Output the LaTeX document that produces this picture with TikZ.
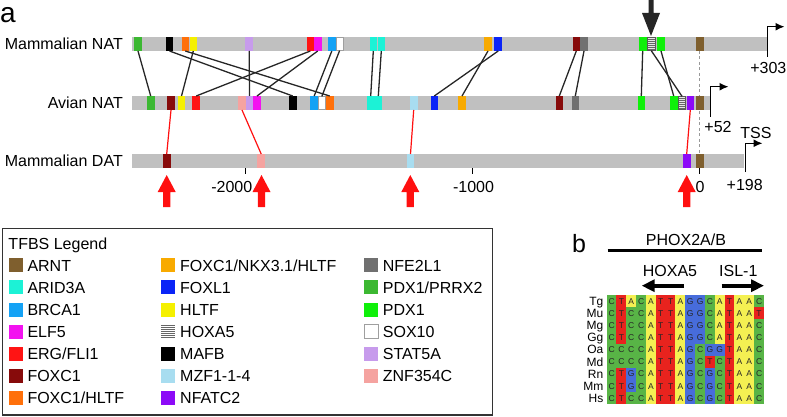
\documentclass[tikz,border=0pt]{standalone}
\usepackage{fontspec}
\setmainfont{Liberation Sans}
\usetikzlibrary{arrows.meta}
\newcommand\fs[1]{\fontsize{#1}{#1}\selectfont}
\definecolor{bargray}{HTML}{C0C0C0}
\definecolor{cARNT}{HTML}{7F5F2E}
\definecolor{cARID}{HTML}{1CF2D6}
\definecolor{cBRCA}{HTML}{14A2F5}
\definecolor{cELF}{HTML}{F312F0}
\definecolor{cERG}{HTML}{FF1414}
\definecolor{cFOXC}{HTML}{870B0B}
\definecolor{cFHLTF}{HTML}{FF700A}
\definecolor{cFNKX}{HTML}{F8AA00}
\definecolor{cFOXL}{HTML}{0A24F7}
\definecolor{cHLTF}{HTML}{F5F000}
\definecolor{cMAFB}{HTML}{000000}
\definecolor{cMZF}{HTML}{A8DDF0}
\definecolor{cNFAT}{HTML}{8C0AF7}
\definecolor{cNFE}{HTML}{707070}
\definecolor{cPPR}{HTML}{3CB832}
\definecolor{cPDX}{HTML}{0FF00A}
\definecolor{cSTAT}{HTML}{C79BEC}
\definecolor{cZNF}{HTML}{F5A3A0}
\definecolor{arrred}{HTML}{FF1010}
\definecolor{nA}{HTML}{F4F052}
\definecolor{nC}{HTML}{58B446}
\definecolor{nG}{HTML}{476CDB}
\definecolor{nT}{HTML}{E8231E}
\begin{document}
\begin{tikzpicture}[x=1pt,y=-1pt,
  tbox/.style={rectangle,minimum width=7.6pt,minimum height=14pt,inner sep=0pt,outer sep=0pt},
  sox/.style={tbox,fill=white,draw=gray!75,line width=0.8pt,minimum width=6.8pt,minimum height=13.2pt},
  hox/.style={tbox,fill=gray!20,draw=black!65,line width=0.7pt,minimum width=7.2pt,minimum height=13.4pt,
    path picture={\foreach \k in {1,...,6}{\draw[black!60,line width=0.6pt]
      ([yshift=-\k*1.95pt]path picture bounding box.north west) -- ([yshift=-\k*1.95pt]path picture bounding box.north east);}}},
  conn/.style={draw=black!85,line width=1.3pt},
  rconn/.style={draw=arrred,line width=1.2pt},
  lab/.style={font=\fs{16},inner sep=0pt},
  tick/.style={draw=black,line width=1pt},
  bent/.style={draw=black,line width=1.3pt,-{Latex[length=9pt,width=8pt]}},
  sw/.style={rectangle,minimum width=14pt,minimum height=14pt,inner sep=0pt},
  lgt/.style={font=\fs{16},inner sep=0pt,anchor=base west},
  cell/.style={rectangle,minimum width=9.95pt,minimum height=12.25pt,inner sep=0pt,font=\fs{8.5},text=black!85},
  uparr/.pic={\fill[arrred] (-3.6,32) -- (-3.6,17) -- (-9,17) -- (0,0) -- (9,17) -- (3.6,17) -- (3.6,32) -- cycle;}
]
\useasboundingbox (0,0) rectangle (787,417);
% panel label
\node[font=\fs{28},inner sep=0pt,anchor=base west] (pa) at (0,22.7) {a};
% dashed guide at position 0
\coordinate (dtop) at (699.7,51);
\coordinate (dbot) at (699.7,154);
\draw[gray!80,line width=0.6pt,dash pattern=on 3pt off 2.5pt] (dtop) -- (dbot);
% bars
\fill[bargray] (132,37) rectangle (767,51);
\fill[bargray] (132,96) rectangle (710,110);
\fill[bargray] (132,154) rectangle (743.5,168);
% row labels
\node[lab,anchor=base east] (lmn) at (123,49.5) {Mammalian NAT};
\node[lab,anchor=base east] (lan) at (123,108.5) {Avian NAT};
\node[lab,anchor=base east] (lmd) at (123,166.5) {Mammalian DAT};
% Mammalian NAT boxes
\node[tbox,fill=cPPR]  (m1) at (138,44) {};
\node[tbox,fill=cMAFB] (m2) at (169.5,44) {};
\node[tbox,fill=cFHLTF](m3) at (185.3,44) {};
\node[tbox,fill=cHLTF] (m4) at (193.3,44) {};
\node[tbox,fill=cSTAT] (m5) at (249.2,44) {};
\node[tbox,fill=cERG]  (m6) at (310.3,44) {};
\node[tbox,fill=cELF]  (m7) at (317.7,44) {};
\node[tbox,fill=cBRCA] (m8) at (331.8,44) {};
\node[sox]             (m9) at (339.6,44) {};
\node[tbox,fill=cARID] (m10) at (373.3,44) {};
\node[tbox,fill=cARID] (m11) at (381.3,44) {};
\node[tbox,fill=cFNKX] (m12) at (488,44) {};
\node[tbox,fill=cFOXL] (m13) at (498.2,44) {};
\node[tbox,fill=cFOXC] (m14) at (576.3,44) {};
\node[tbox,fill=cNFE]  (m15) at (584,44) {};
\node[tbox,fill=cPDX]  (m16) at (642.7,44) {};
\node[hox]             (m17) at (651.3,44) {};
\node[tbox,fill=cPDX]  (m18) at (661,44) {};
\node[tbox,fill=cARNT] (m19) at (699.7,44) {};
% Avian NAT boxes
\node[tbox,fill=cPPR]  (a1) at (150.7,103) {};
\node[tbox,fill=cFOXC] (a2) at (171,103) {};
\node[tbox,fill=cHLTF] (a3) at (181.5,103) {};
\node[tbox,fill=cERG]  (a4) at (196.2,103) {};
\node[tbox,fill=cZNF]  (a5) at (242,103) {};
\node[tbox,fill=cSTAT] (a6) at (249.5,103) {};
\node[tbox,fill=cELF]  (a7) at (257,103) {};
\node[tbox,fill=cMAFB] (a8) at (292.7,103) {};
\node[tbox,fill=cBRCA] (a9) at (314.2,103) {};
\node[sox]             (a10) at (321.8,103) {};
\node[tbox,fill=cFHLTF](a11) at (329.7,103) {};
\node[tbox,fill=cARID] (a12) at (370.7,103) {};
\node[tbox,fill=cARID] (a13) at (378.3,103) {};
\node[tbox,fill=cMZF]  (a14) at (413.7,103) {};
\node[tbox,fill=cFOXL] (a15) at (434.3,103) {};
\node[tbox,fill=cFNKX] (a16) at (462,103) {};
\node[tbox,fill=cFOXC] (a17) at (559.3,103) {};
\node[tbox,fill=cNFE]  (a18) at (575.3,103) {};
\node[tbox,fill=cPDX]  (a19) at (641.3,103) {};
\node[tbox,fill=cPDX]  (a20) at (673.7,103) {};
\node[hox]             (a21) at (682,103) {};
\node[tbox,fill=cNFAT] (a22) at (690.3,103) {};
\node[tbox,fill=cARNT] (a23) at (699.7,103) {};
% Mammalian DAT boxes
\node[tbox,fill=cFOXC] (d1) at (166.7,161) {};
\node[tbox,fill=cZNF]  (d2) at (261.2,161) {};
\node[tbox,fill=cMZF]  (d3) at (410.5,161) {};
\node[tbox,fill=cNFAT] (d4) at (686.7,161) {};
\node[tbox,fill=cARNT] (d5) at (699.7,161) {};
% conserved connectors NAT-NAT
\draw[conn] (m1.south) -- (a1.north);
\draw[conn] (m2.south) -- (a8.north);
\draw[conn] (m3.south) -- (a11.north);
\draw[conn] (m4.south) -- (a3.north);
\draw[conn] (m5.south) -- (a6.north);
\draw[conn] (m6.south) -- (a4.north);
\draw[conn] (m7.south) -- (a7.north);
\draw[conn] (m8.south) -- (a9.north);
\draw[conn] (m9.south) -- (a10.north);
\draw[conn] (m10.south) -- (a12.north);
\draw[conn] (m11.south) -- (a13.north);
\draw[conn] (m12.south) -- (a16.north);
\draw[conn] (m13.south) -- (a15.north);
\draw[conn] (m14.south) -- (a17.north);
\draw[conn] (m15.south) -- (a18.north);
\draw[conn] (m16.south) -- (a19.north);
\draw[conn] (m17.south) -- (a21.north);
\draw[conn] (m18.south) -- (a20.north);
% avian NAT - DAT
\draw[rconn] (a2.south) -- (d1.north);
\draw[rconn] (a5.south) -- (d2.north);
\draw[rconn] (a14.south) -- (d3.north);
\draw[rconn] (a22.south) -- (d4.north);
% ticks
\draw[tick] (245.7,168) -- (245.7,174);
\draw[tick] (472.2,168) -- (472.2,174);
\draw[tick] (699.7,168) -- (699.7,174);
\node[lab,anchor=base] (t2000) at (231.8,192.3) {-2000};
\node[lab,anchor=base] (t1000) at (473.5,192.3) {-1000};
\node[lab,anchor=base] (t0) at (700,192.3) {0};
% TSS bent arrows
\draw[bent] (767.3,57) -- (767.3,26.7) -- (784.5,26.7);
\node[lab,anchor=base] (p303) at (768.3,73.3) {+303};
\draw[bent] (710.7,116.7) -- (710.7,86.7) -- (728.5,86.7);
\node[lab,anchor=base] (p52) at (718,132.7) {+52};
\draw[bent] (745.5,172) -- (745.5,143.3) -- (762.5,143.3);
\node[lab,anchor=base] (tss) at (756,138.3) {TSS};
\node[lab,anchor=base] (p198) at (744.7,190) {+198};
% red arrows
\pic at (166.7,175) {uparr};
\pic at (261.5,175) {uparr};
\pic at (410.3,175) {uparr};
\pic at (686.7,175) {uparr};
% black arrow
\fill[black!85] (648.5,0) -- (648.5,13) -- (642,13) -- (651,36) -- (660,13) -- (653.5,13) -- (653.5,0) -- cycle;
% legend
\draw[black!80,line width=1.4pt] (2.7,228.3) rectangle (492.7,415);
\node[lgt] (lgtitle) at (8.3,249) {TFBS Legend};
\foreach \c/\t [count=\i] in {cARNT/ARNT,cARID/ARID3A,cBRCA/BRCA1,cELF/ELF5,cERG/ERG\slash FLI1,cFOXC/FOXC1,cFHLTF/FOXC1\slash HLTF}{
  \node[sw,fill=\c] (sa\i) at (15.5,{265.3+(\i-1)*22.1}) {};
  \node[lgt] (la\i) at (27.3,{265.3+(\i-1)*22.1+5.8}) {\t};
}
\foreach \c/\t [count=\i] in {cFNKX/FOXC1\slash NKX3.1\slash HLTF,cFOXL/FOXL1,cHLTF/HLTF,white/HOXA5,cMAFB/MAFB,cMZF/MZF1-1-4,cNFAT/NFATC2}{
  \node[sw,fill=\c] (sb\i) at (168,{265.3+(\i-1)*22.1}) {};
  \node[lgt] (lb\i) at (180,{265.3+(\i-1)*22.1+5.8}) {\t};
}
\foreach \k in {1,...,7}{\draw[black!60,line width=0.8pt] ([yshift=-\k*1.85pt+0.4pt]sb4.north west) -- ([yshift=-\k*1.85pt+0.4pt]sb4.north east);}
\foreach \c/\t [count=\i] in {cNFE/NFE2L1,cPPR/PDX1\slash PRRX2,cPDX/PDX1,white/SOX10,cSTAT/STAT5A,cZNF/ZNF354C}{
  \node[sw,fill=\c] (sc\i) at (371.3,{265.3+(\i-1)*22.1}) {};
  \node[lgt] (lc\i) at (382.7,{265.3+(\i-1)*22.1+5.8}) {\t};
}
\draw[gray!75,line width=0.8pt] (sc4.south west) rectangle (sc4.north east);
% panel b
\node[font=\fs{25},inner sep=0pt,anchor=base west] (pb) at (572,252.3) {b};
\node[lab,anchor=base] (phox) at (686,245.7) {PHOX2A/B};
\coordinate (phl) at (607.7,250);
\coordinate (phr) at (762.3,250);
\draw[black,line width=3pt] (phl) -- (phr);
\node[lab,anchor=base] (hoxl) at (670,276.7) {HOXA5};
\node[lab,anchor=base] (isl) at (738.3,276.7) {ISL-1};
\coordinate (h1) at (684,285.7);
\coordinate (h2) at (641.7,285.7);
\coordinate (i1) at (721.7,285.7);
\coordinate (i2) at (764,285.7);
\draw[black,line width=4.3pt,-{Triangle[length=13pt,width=12pt]}] (h1) -- (h2);
\draw[black,line width=4.3pt,-{Triangle[length=13pt,width=12pt]}] (i1) -- (i2);
\foreach \row [count=\r] in {{C,T,A,C,A,T,T,A,G,G,C,A,T,A,A,C},{C,T,C,C,A,T,T,A,G,G,C,A,T,A,A,T},{C,T,C,C,A,T,T,A,G,G,C,A,T,A,A,C},{C,T,C,C,A,T,T,A,G,G,C,A,T,A,A,C},{C,C,C,C,A,T,T,A,G,C,G,G,T,A,A,C},{C,C,C,C,A,T,T,A,G,C,T,C,T,A,A,C},{C,T,G,C,A,T,T,A,G,C,G,C,T,A,A,C},{C,T,G,C,A,T,T,A,G,C,G,C,T,A,A,C},{C,T,C,C,A,T,T,A,G,C,G,C,T,A,A,C}}{
  \foreach \l [count=\c] in \row {
    \node[cell,fill=n\l] (c-\r-\c) at ({606.7+(\c-0.5)*9.83},{295+(\r-0.5)*12.15}) {\l};
  }
}
\foreach \s [count=\r] in {Tg,Mu,Mg,Gg,Oa,Md,Rn,Mm,Hs}{
  \node[font=\fs{12},inner sep=0pt,anchor=east,text height=8.6pt,text depth=0pt] (sp-\r) at (603.5,{295+(\r-0.5)*12.15}) {\s};
}
\end{tikzpicture}
\end{document}
